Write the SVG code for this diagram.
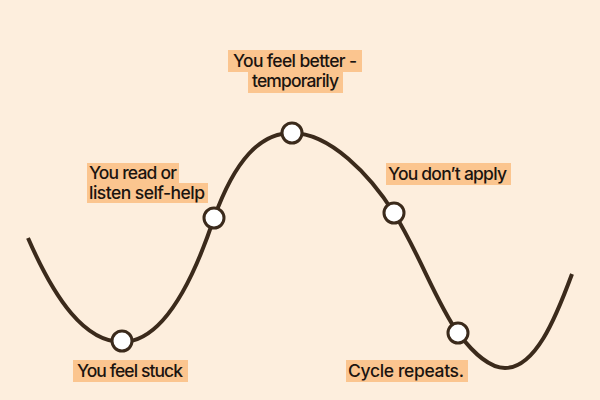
<svg xmlns="http://www.w3.org/2000/svg" width="600" height="400" viewBox="0 0 600 400">
<style>
.bg{fill:#fdeedd}
.hl{fill:#fbc58f}
.lbl{font-family:Inter,"Open Sans",sans-serif;font-size:17.5px;font-weight:500;fill:#1a1410}
.curve{fill:none;stroke:#3b2a1b;stroke-width:4;stroke-linecap:butt}
.pt{fill:#ffffff;stroke:#3b2a1b;stroke-width:3}
</style>
<rect class="bg" x="0" y="0" width="600" height="400"/>
<g id="connectors">
<path class="curve" d="M28,238 C55,300 85,342 122,342 C165,342 195,275 214,218 C235,160 260,133 292,133 C330,133 370,175 394,213 C420,255 435,300 458,333 C475,355 490,368 505,368 C535,368 555,320 572,274"/>
</g>
<g id="node-stuck">
<circle class="pt" cx="122" cy="341" r="10"/>
<rect class="hl" x="73" y="360" width="115" height="22"/>
<text class="lbl" x="77" y="377" textLength="106">You feel stuck</text>
</g>
<g id="node-read">
<circle class="pt" cx="214" cy="218" r="10"/>
<rect class="hl" x="87" y="163" width="92" height="20"/>
<rect class="hl" x="87" y="183" width="121" height="20"/>
<text class="lbl" x="89" y="179" textLength="88">You read or</text>
<text class="lbl" x="89" y="199" textLength="116">listen self-help</text>
</g>
<g id="node-better">
<circle class="pt" cx="292" cy="133" r="10"/>
<rect class="hl" x="228" y="50" width="134" height="22"/>
<rect class="hl" x="248" y="72" width="95" height="21"/>
<text class="lbl" x="233" y="67" textLength="124">You feel better -</text>
<text class="lbl" x="252" y="87" textLength="87">temporarily</text>
</g>
<g id="node-apply">
<circle class="pt" cx="394" cy="213" r="10"/>
<rect class="hl" x="386" y="163" width="125" height="22"/>
<text class="lbl" x="388" y="180" textLength="119">You don’t apply</text>
</g>
<g id="node-repeat">
<circle class="pt" cx="458" cy="333" r="10"/>
<rect class="hl" x="346" y="360" width="122" height="22"/>
<text class="lbl" x="348" y="377" textLength="116">Cycle repeats.</text>
</g>
</svg>
